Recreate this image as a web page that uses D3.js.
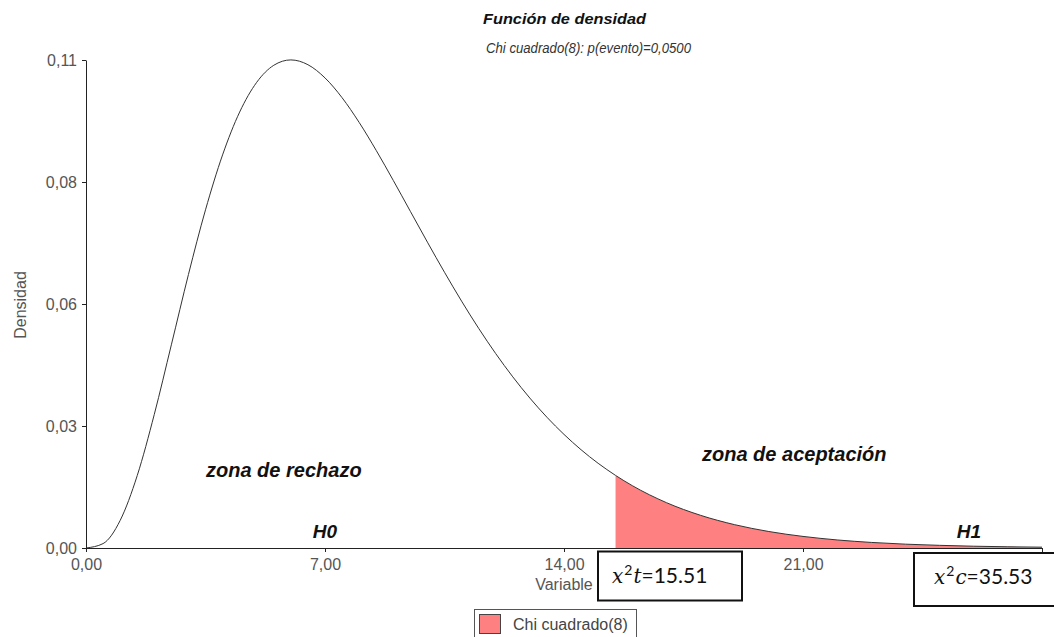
<!DOCTYPE html>
<html>
<head>
<meta charset="utf-8">
<script src="https://cdn.jsdelivr.net/npm/d3@7"></script>
<style>
  html, body { margin: 0; padding: 0; background: #fff; }
  svg { display: block; }
</style>
</head>
<body>
<svg id="chart" width="1054" height="637"></svg>
<script>
// ---- data (Chi cuadrado, 8 g.l.) ----
const xValues = [0, 0.5, 1, 1.5, 2, 2.5, 3, 3.5, 4, 4.5, 5, 5.5, 6, 6.5, 7, 7.5, 8, 8.5, 9, 9.5,
  10, 10.5, 11, 11.5, 12, 12.5, 13, 13.5, 14, 14.5, 15, 15.51, 16, 17, 18, 19, 20, 21, 22, 23, 24, 25, 26, 27, 28];
const densityValues = [0, 0.00101, 0.00632, 0.01661, 0.03066, 0.04663, 0.06276, 0.07761, 0.09022, 0.10005,
  0.10688, 0.11079, 0.11202, 0.11092, 0.10789, 0.10335, 0.09768, 0.09125, 0.08436, 0.07727,
  0.07019, 0.06328, 0.05666, 0.05042, 0.04462, 0.03928, 0.03441, 0.03001, 0.02607, 0.02255,
  0.01944, 0.01666, 0.01431, 0.01041, 0.00750, 0.00535, 0.00378, 0.00266, 0.00185, 0.00128,
  0.00088, 0.00061, 0.00041, 0.00028, 0.00019];
const criticalValue = 15.51;
const xTickValues = [0, 7, 14, 21, 28];
const xTickLabels = ["0,00", "7,00", "14,00", "21,00", ""];
const yTickValues = [0, 0.028, 0.056, 0.084, 0.112];
const yTickLabels = ["0,00", "0,03", "0,06", "0,08", "0,11"];
const titleText = "Función de densidad";
const subtitleText = "Chi cuadrado(8): p(evento)=0,0500";
const xAxisLabel = "Variable";
const yAxisLabel = "Densidad";
const seriesName = "Chi cuadrado(8)";
const zoneLabels = ["zona de rechazo", "zona de aceptación"];
const hypLabels = ["H0", "H1"];
const statSymbols = ["t", "c"];
const statValues = ["15.51", "35.53"];

// ---- layout ----
const W = 1054, H = 637;
const plot = { left: 86, right: 1042, top: 60, bottom: 548 };
const SANS = "'Liberation Sans', Arial, sans-serif";
const fillColor = "#FF8080";

const svg = d3.select("#chart");
const x = d3.scaleLinear().domain([0, 28]).range([plot.left, plot.right]);
const y = d3.scaleLinear().domain([0, 0.112]).range([plot.bottom, plot.top]);

const points = xValues.map((v, i) => ({ x: v, y: densityValues[i] }));
const tail = points.filter(p => p.x >= criticalValue);

// shaded tail area
const area = d3.area().x(d => x(d.x)).y0(y(0)).y1(d => y(d.y)).curve(d3.curveMonotoneX);
svg.append("path").datum(tail).attr("d", area).attr("fill", fillColor).attr("stroke", "none");

// density curve
const line = d3.line().x(d => x(d.x)).y(d => y(d.y)).curve(d3.curveMonotoneX);
svg.append("path").datum(points).attr("d", line)
  .attr("fill", "none").attr("stroke", "#333").attr("stroke-width", 1);

// axes
const yAxis = d3.axisLeft(y).tickValues(yTickValues)
  .tickFormat((d, i) => yTickLabels[i]).tickSize(4).tickSizeOuter(0).tickPadding(5);
const gy = svg.append("g").attr("transform", `translate(${plot.left},0)`).call(yAxis);
const xAxis = d3.axisBottom(x).tickValues(xTickValues)
  .tickFormat((d, i) => xTickLabels[i]).tickSize(4).tickSizeOuter(0).tickPadding(7);
const gx = svg.append("g").attr("transform", `translate(0,${plot.bottom})`).call(xAxis);
[gx, gy].forEach(g => {
  g.selectAll("path.domain").attr("stroke", "#222");
  g.selectAll(".tick line").attr("stroke", "#222");
  g.selectAll(".tick text").attr("fill", "#555").style("font-family", SANS).style("font-size", "16px");
});

// axis labels
svg.append("text").attr("x", x(14)).attr("y", 590)
  .attr("text-anchor", "middle").attr("fill", "#555")
  .style("font-family", SANS).style("font-size", "16px").text(xAxisLabel);
svg.append("text").attr("transform", `translate(26,${(plot.top + plot.bottom) / 2 + 1}) rotate(-90)`)
  .attr("text-anchor", "middle").attr("fill", "#555")
  .style("font-family", SANS).style("font-size", "16px").text(yAxisLabel);

// titles
svg.append("text").attr("x", 483).attr("y", 24)
  .attr("textLength", 163).attr("lengthAdjust", "spacingAndGlyphs")
  .attr("fill", "#111").style("font-family", SANS).style("font-size", "15px")
  .style("font-weight", "bold").style("font-style", "italic").text(titleText);
svg.append("text").attr("x", 486).attr("y", 53)
  .attr("textLength", 205).attr("lengthAdjust", "spacingAndGlyphs")
  .attr("fill", "#333").style("font-family", SANS).style("font-size", "14.5px")
  .style("font-style", "italic").text(subtitleText);

// zone annotations
const boldItalic = sel => sel.attr("fill", "#111").style("font-family", SANS)
  .style("font-weight", "bold").style("font-style", "italic");
svg.append("text").attr("x", 206).attr("y", 477).style("font-size", "20px")
  .call(boldItalic).text(zoneLabels[0]);
svg.append("text").attr("x", 702).attr("y", 461).style("font-size", "20px")
  .call(boldItalic).text(zoneLabels[1]);
svg.append("text").attr("x", x(7)).attr("y", 538).attr("text-anchor", "middle")
  .style("font-size", "19px").call(boldItalic).text(hypLabels[0]);
svg.append("text").attr("x", 969).attr("y", 538).attr("text-anchor", "middle")
  .style("font-size", "19px").call(boldItalic).text(hypLabels[1]);

// statistic boxes
const boxes = [
  { x0: 598, y0: 551.5, w: 144, h: 49, tx: 612, ty: 583 },
  { x0: 914, y0: 553, w: 150, h: 53, tx: 934, ty: 584 }
];
boxes.forEach((b, i) => {
  svg.append("rect").attr("x", b.x0).attr("y", b.y0).attr("width", b.w).attr("height", b.h)
    .attr("fill", "#fff").attr("stroke", "#111").attr("stroke-width", 2);
  const t = svg.append("text").attr("x", b.tx).attr("y", b.ty).attr("fill", "#111");
  t.append("tspan").style("font-family", "'DejaVu Serif', serif").style("font-style", "italic")
    .style("font-size", "20px").text("x");
  t.append("tspan").attr("dx", 1).attr("dy", -8).style("font-family", "Lato, 'Open Sans', sans-serif")
    .style("font-size", "14px").text("2");
  t.append("tspan").attr("dx", 1).attr("dy", 8).style("font-family", "'DejaVu Serif', serif").style("font-style", "italic")
    .style("font-size", "20px").text(statSymbols[i]);
  t.append("tspan").style("font-family", "Lato, 'Open Sans', sans-serif")
    .style("font-size", "21px").text("=" + statValues[i]);
});

// legend
const lg = svg.append("g");
lg.append("rect").attr("x", 474.5).attr("y", 609.5).attr("width", 162).attr("height", 40)
  .attr("fill", "#fff").attr("stroke", "#555").attr("stroke-width", 1);
lg.append("rect").attr("x", 479.5).attr("y", 614.5).attr("width", 21).attr("height", 19)
  .attr("fill", fillColor).attr("stroke", "#444").attr("stroke-width", 1);
lg.append("text").attr("x", 513).attr("y", 630).attr("fill", "#444")
  .style("font-family", SANS).style("font-size", "16px").text(seriesName);
</script>
</body>
</html>
